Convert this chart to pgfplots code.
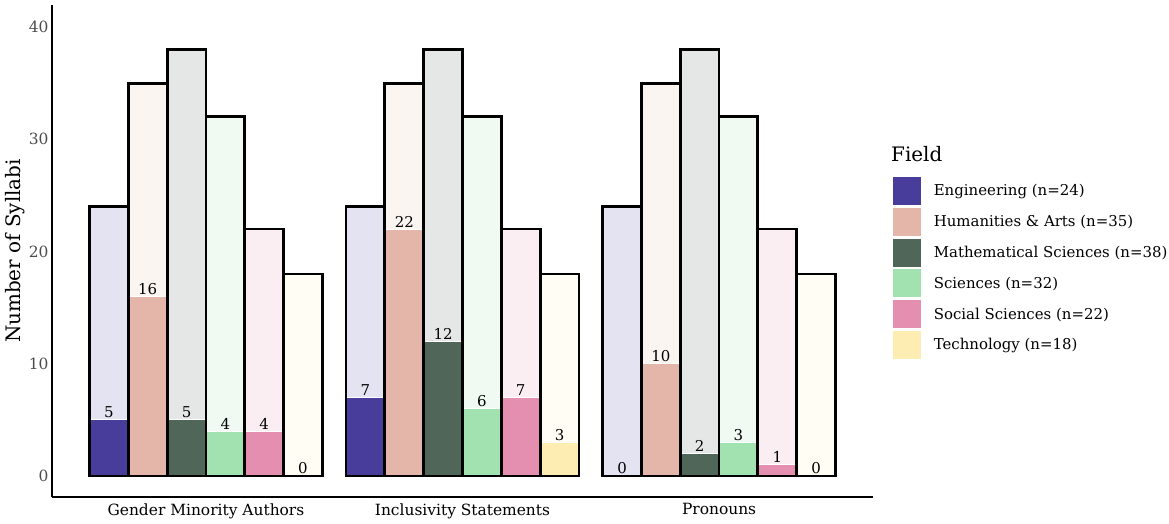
\documentclass[border=0pt]{standalone}
\usepackage{fontspec}
\setmainfont{DejaVu Serif}
\usepackage{pgfplots}
\pgfplotsset{compat=1.18}
\definecolor{eng}{HTML}{483D9B}\definecolor{engL}{HTML}{E4E3F1}
\definecolor{hum}{HTML}{E4B6A9}\definecolor{humL}{HTML}{FBF5F2}
\definecolor{mat}{HTML}{4F6659}\definecolor{matL}{HTML}{E5E7E6}
\definecolor{sci}{HTML}{A2E1B0}\definecolor{sciL}{HTML}{F0FAF2}
\definecolor{soc}{HTML}{E48EB0}\definecolor{socL}{HTML}{FBEEF3}
\definecolor{tec}{HTML}{FDEDB3}\definecolor{tecL}{HTML}{FFFDF4}
\pgfplotsset{
  leg/.style={legend image code/.code={\fill[fill=#1] (0bp,-14.5bp) rectangle (29bp,14.5bp); \path (41bp,0bp);}},
  bgbar/.style={ybar, bar width=0.1513, bar shift=0pt, draw=none, forget plot},
  olbar/.style={ybar, bar width=0.1513, bar shift=0pt, draw=black, line width=2.8bp, fill=none, forget plot},
  fgbar/.style={ybar, bar width=0.1513, bar shift=0pt, draw=white, line width=0.8bp,
     nodes near coords, nodes near coords style={font=\fontsize{15}{17}\selectfont, text=black, anchor=south, inner sep=1.5bp}},
}
\begin{document}
\begin{tikzpicture}
\useasboundingbox (-52bp,-27bp) rectangle (1117bp,497bp);
\begin{axis}[
  scale only axis, width=821bp, height=492bp,
  xmin=-0.6, xmax=2.6, ymin=-1.871, ymax=41.96,
  axis lines=left, axis line style={line width=1.8bp, -},
  xtick={0,1,2},
  xticklabels={Gender Minority Authors, Inclusivity Statements, Pronouns},
  ytick={0,10,20,30,40},
  major tick length=0pt,
  tick label style={font=\fontsize{15.5}{18}\selectfont},
  xticklabel style={yshift=-3bp},
  yticklabel style={text=black!70},
  /pgf/number format/assume math mode=true,
  ylabel={Number of Syllabi},
  ylabel style={at={(axis description cs:0,0.5)}, anchor=center, yshift=37bp, font=\fontsize{20}{24}\selectfont},
  legend style={at={(axis description cs:1,0)}, anchor=north west, xshift=19bp, yshift=321bp,
     draw=none, fill=none, inner sep=0pt, outer sep=0pt, row sep=1bp,
     nodes={inner sep=0pt, font=\fontsize{15}{18}\selectfont}},
  legend cell align=left,
  clip=false,
]
% background (totals)
\addplot[bgbar, fill=engL] coordinates {(-0.37825,24)(0.62175,24)(1.62175,24)};
\addplot[bgbar, fill=humL] coordinates {(-0.22695,35)(0.77305,35)(1.77305,35)};
\addplot[bgbar, fill=matL] coordinates {(-0.07565,38)(0.92435,38)(1.92435,38)};
\addplot[bgbar, fill=sciL] coordinates {(0.07565,32)(1.07565,32)(2.07565,32)};
\addplot[bgbar, fill=socL] coordinates {(0.22695,22)(1.22695,22)(2.22695,22)};
\addplot[bgbar, fill=tecL] coordinates {(0.37825,18)(1.37825,18)(2.37825,18)};
% foreground (counts)
\addplot[fgbar, fill=eng, leg=eng] coordinates {(-0.37825,5)(0.62175,7)(1.62175,0)};
\addlegendentry{Engineering (n=24)}
\addplot[fgbar, fill=hum, leg=hum] coordinates {(-0.22695,16)(0.77305,22)(1.77305,10)};
\addlegendentry{Humanities \& Arts (n=35)}
\addplot[fgbar, fill=mat, leg=mat] coordinates {(-0.07565,5)(0.92435,12)(1.92435,2)};
\addlegendentry{Mathematical Sciences (n=38)}
\addplot[fgbar, fill=sci, leg=sci] coordinates {(0.07565,4)(1.07565,6)(2.07565,3)};
\addlegendentry{Sciences (n=32)}
\addplot[fgbar, fill=soc, leg=soc] coordinates {(0.22695,4)(1.22695,7)(2.22695,1)};
\addlegendentry{Social Sciences (n=22)}
\addplot[fgbar, fill=tec, leg=tec] coordinates {(0.37825,0)(1.37825,3)(2.37825,0)};
\addlegendentry{Technology (n=18)}
% outlines
\addplot[olbar] coordinates {(-0.37825,24)(0.62175,24)(1.62175,24)};
\addplot[olbar] coordinates {(-0.22695,35)(0.77305,35)(1.77305,35)};
\addplot[olbar] coordinates {(-0.07565,38)(0.92435,38)(1.92435,38)};
\addplot[olbar] coordinates {(0.07565,32)(1.07565,32)(2.07565,32)};
\addplot[olbar] coordinates {(0.22695,22)(1.22695,22)(2.22695,22)};
\addplot[olbar] coordinates {(0.37825,18)(1.37825,18)(2.37825,18)};
\end{axis}
\node[anchor=base west, inner sep=0pt, font=\fontsize{20}{24}\selectfont] at (839bp,335bp) {Field};
\end{tikzpicture}
\end{document}
